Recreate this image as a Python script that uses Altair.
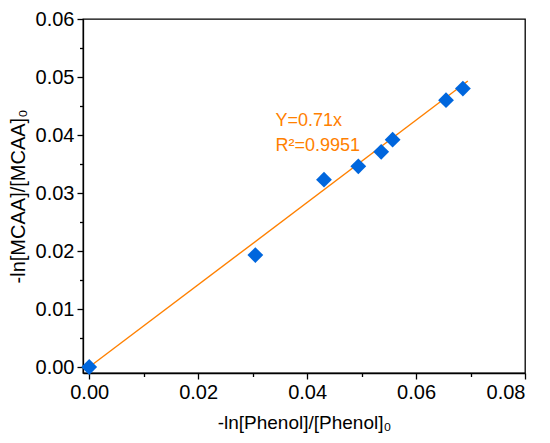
import pandas as pd
import altair as alt

# Measured points
x_vals = [0.0, 0.0305, 0.0431, 0.0494, 0.0536, 0.0557, 0.0655, 0.0686]
y_vals = [0.0, 0.0193, 0.0323, 0.0346, 0.0371, 0.0392, 0.0460, 0.0480]

# Fitted line Y = 0.71x (end points)
fit_x = [0.0, 0.0695]
fit_y = [0.0, 0.0493]

# Annotation
ann_x = [0.0342, 0.0342]
ann_y = [0.0424, 0.0381]
ann_text = ["Y=0.71x", "R\u00b2=0.9951"]

x_major = [0.0, 0.02, 0.04, 0.06, 0.08]
x_minor = [0.01, 0.03, 0.05, 0.07]
y_major = [0.0, 0.01, 0.02, 0.03, 0.04, 0.05, 0.06]
y_minor = [0.005, 0.015, 0.025, 0.035, 0.045, 0.055]

pts = pd.DataFrame({"x": x_vals, "y": y_vals})
fit = pd.DataFrame({"x": fit_x, "y": fit_y})
ann = pd.DataFrame({"x": ann_x, "y": ann_y, "t": ann_text})

FONT = "Liberation Sans"
BLUE = "#0066dd"
ORANGE = "#ff8000"

xs = alt.Scale(domain=[-0.00114, 0.08], nice=False, zero=False)
ys = alt.Scale(domain=[-0.00103, 0.06], nice=False, zero=False)

common_axis = dict(grid=False, domainColor="black", domainWidth=1.3, tickColor="black",
                   tickWidth=1.3, labelColor="black", titleColor="black",
                   labelFont=FONT, titleFont=FONT, labelFontSize=20,
                   titleFontWeight="normal")

points = alt.Chart(pts).mark_point(shape="diamond", filled=True, size=250, opacity=1, color=BLUE).encode(
    x=alt.X("x:Q", scale=xs, title="-ln[Phenol]/[Phenol]\u2080",
            axis=alt.Axis(values=x_major, format=".2f", tickSize=6, labelPadding=3, titlePadding=11,
                          titleFontSize=19, orient="bottom", **common_axis)),
    y=alt.Y("y:Q", scale=ys, title="-ln[MCAA]/[MCAA]\u2080",
            axis=alt.Axis(values=y_major, format=".2f", tickSize=6, labelPadding=3, titlePadding=7,
                          titleFontSize=20, orient="left", **common_axis)),
)

minor = alt.Chart(pts).mark_point(opacity=0).encode(
    x=alt.X("x:Q", scale=xs, title=None,
            axis=alt.Axis(values=x_minor, labels=False, domain=False, tickSize=3.5, tickColor="black",
                          tickWidth=1.3, grid=False, orient="bottom")),
    y=alt.Y("y:Q", scale=ys, title=None,
            axis=alt.Axis(values=y_minor, labels=False, domain=False, tickSize=3.5, tickColor="black",
                          tickWidth=1.3, grid=False, orient="left")),
)

line = alt.Chart(fit).mark_line(color=ORANGE, strokeWidth=1.4).encode(
    x=alt.X("x:Q", scale=xs, axis=None),
    y=alt.Y("y:Q", scale=ys, axis=None),
)

text = alt.Chart(ann).mark_text(align="left", baseline="middle", font=FONT, fontSize=18, color=ORANGE).encode(
    x=alt.X("x:Q", scale=xs, axis=None),
    y=alt.Y("y:Q", scale=ys, axis=None),
    text="t:N",
)

chart = alt.layer(line, points, text, minor).resolve_axis(x="independent", y="independent").properties(
    width=442,
    height=354,
    autosize=alt.AutoSizeParams(type="none"),
    padding={"left": 75, "top": 11, "right": 17, "bottom": 60},
    background="white",
).configure_view(stroke="black", strokeWidth=1.3)

chart.save("out.html", embed_options={"renderer": "svg", "actions": False})
